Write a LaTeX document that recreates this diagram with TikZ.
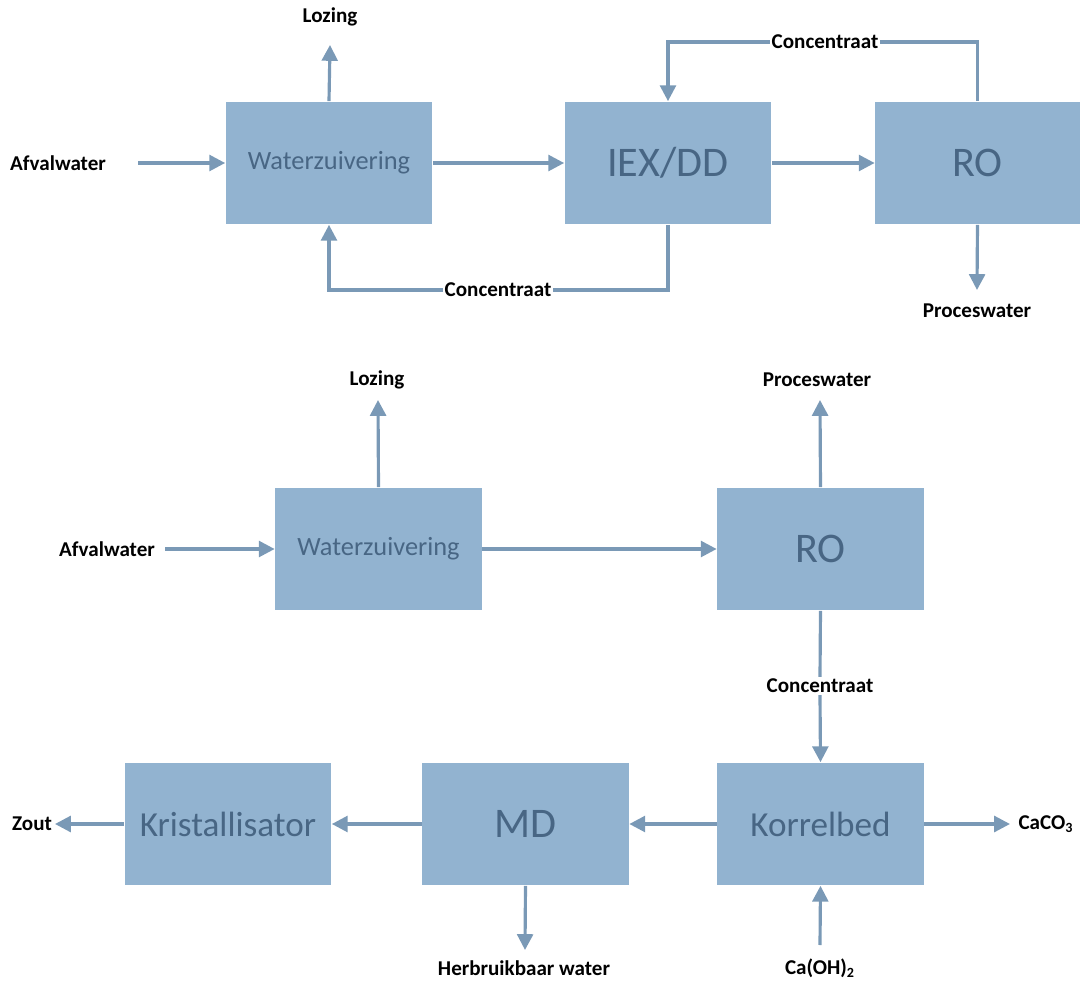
\documentclass[tikz,border=0pt]{standalone}
\usepackage{fontspec}
\setmainfont{Carlito}
\usepackage{tikz}
\usetikzlibrary{arrows.meta,positioning,calc}
\definecolor{boxblue}{RGB}{146,179,208}
\definecolor{boxtext}{RGB}{72,102,132}
\definecolor{flow}{RGB}{122,153,182}

\tikzset{
  unit/.style={rectangle,fill=boxblue,text=boxtext,minimum width=4.14cm,minimum height=2.46cm,inner sep=0pt,font=\fontsize{15}{18}\selectfont},
  bigunit/.style={unit,font=\fontsize{24}{28}\selectfont},
  stream/.style={font=\bfseries\fontsize{12}{14}\selectfont,text=black,inner sep=1pt},
  pipe/.style={draw=flow,line width=1.8pt,-{Triangle[length=9pt,width=9pt]}},
  line/.style={draw=flow,line width=1.8pt}
}

\begin{document}
\begin{tikzpicture}[x=0.02cm,y=-0.02cm]
 \useasboundingbox (0,0) rectangle (1080,984);
 % bovenste schema
 \node[unit] (wz1) at (329,163) {Waterzuivering};
 \node[bigunit] (iex) at (668,163) {IEX/DD};
 \node[bigunit,minimum width=4.1cm] (ro1) at (977.5,163) {RO};
 \node[stream] (afv1) at (58,163) {Afvalwater};
 \node[stream] (loz1) at (330,17) {Lozing};
 \node[stream] (pw1) at (977,311) {Proceswater};
 \coordinate (afv1e) at (138,163);
 \coordinate (loz1e) at (330,45);
 \coordinate (pw1e) at (977,290);
 \draw[pipe] (afv1e) -- (wz1);
 \draw[pipe] (wz1.north) -- (loz1e);
 \draw[pipe] (wz1) -- (iex);
 \draw[pipe] (iex) -- (ro1);
 \draw[pipe] (ro1.south) -- (pw1e);
 \draw[pipe] (ro1.north) |- (668,42) -- (iex.north);
 \node[stream,fill=white] (conc1) at (825,42) {Concentraat};
 \draw[pipe] (iex.south) |- (329,290) -- (wz1.south);
 \node[stream,fill=white] (conc2) at (498,290) {Concentraat};
 % onderste schema
 \node[unit] (wz2) at (378.5,549) {Waterzuivering};
 \node[bigunit] (ro2) at (820.5,549) {RO};
 \node[unit,font=\fontsize{20}{24}\selectfont] (kb) at (820.5,824) {Korrelbed};
 \node[bigunit] (md) at (525.5,824) {MD};
 \node[unit,font=\fontsize{20}{24}\selectfont] (kr) at (228,824) {Kristallisator};
 \node[stream] (afv2) at (107,549) {Afvalwater};
 \node[stream] (loz2) at (377,380) {Lozing};
 \node[stream] (pw2) at (817,380) {Proceswater};
 \node[stream,fill=white] (conc3) at (820,686) {Concentraat};
 \node[stream] (zout) at (32,824) {Zout};
 \node[stream] (caco) at (1046,824) {CaCO\textsubscript{3}};
 \node[stream] (hbw) at (524,968) {Herbruikbaar water};
 \node[stream] (caoh) at (820,968) {Ca(OH)\textsubscript{2}};
 \coordinate (afv2e) at (165,549);
 \coordinate (loz2e) at (378,400);
 \coordinate (pw2e) at (820,400);
 \coordinate (zoute) at (55,824);
 \coordinate (cacoe) at (1010,824);
 \coordinate (hbwe) at (525,950);
 \coordinate (caohe) at (820,945);
 \draw[pipe] (afv2e) -- (wz2);
 \draw[pipe] (wz2.north) -- (loz2e);
 \draw[pipe] (ro2.north) -- (pw2e);
 \draw[pipe] (wz2) -- (ro2);
 \draw[line] (ro2.south) -- (conc3.north);
 \draw[pipe] (conc3.south) -- (kb.north);
 \draw[pipe] (kb) -- (md);
 \draw[pipe] (md) -- (kr);
 \draw[pipe] (kr) -- (zoute);
 \draw[pipe] (kb) -- (cacoe);
 \draw[pipe] (md.south) -- (hbwe);
 \draw[pipe] (caohe) -- (kb.south);
\end{tikzpicture}
\end{document}
